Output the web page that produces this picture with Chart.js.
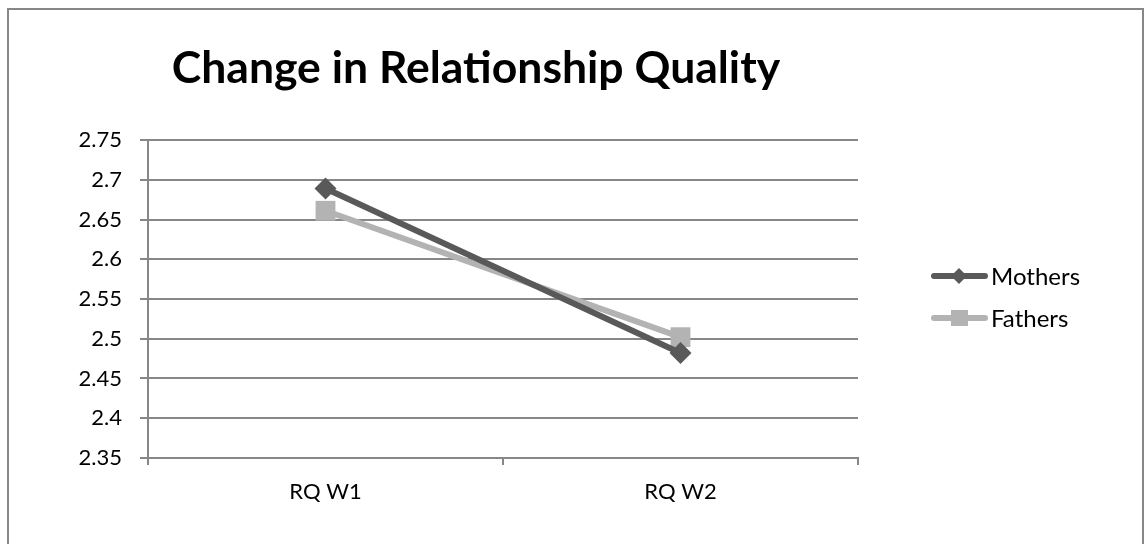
<!DOCTYPE html>
<html>
<head>
<meta charset="utf-8">
<script src="https://cdn.jsdelivr.net/npm/chart.js@4"></script>
<style>
html,body{margin:0;padding:0;background:#fff;}
#wrap{width:1146px;height:544px;position:relative;}
</style>
</head>
<body>
<div id="wrap"><canvas id="c" width="1146" height="544"></canvas></div>
<script>
const categories = ["RQ W1", "RQ W2"];
const mothers = [2.689, 2.482];
const fathers = [2.661, 2.502];
const yTicks = [2.35, 2.4, 2.45, 2.5, 2.55, 2.6, 2.65, 2.7, 2.75];
const titleText = "Change in Relationship Quality";
const seriesNames = ["Mothers", "Fathers"];

const FONT = "Lato, 'Open Sans', sans-serif";

const decor = {
  id: 'decor',
  beforeDraw(chart) {
    const ctx = chart.ctx;
    ctx.save();
    ctx.fillStyle = '#fff';
    ctx.fillRect(0, 0, chart.width, chart.height);
    ctx.strokeStyle = '#878787';
    ctx.lineWidth = 2;
    ctx.strokeRect(8, 9, 1135, 560);
    ctx.restore();
  },
  afterDraw(chart) {
    const ctx = chart.ctx;
    ctx.save();
    // title
    ctx.fillStyle = '#000';
    ctx.font = "bold 44.5px " + FONT;
    ctx.textBaseline = 'alphabetic';
    ctx.textAlign = 'center';
    ctx.fillText(titleText, 476, 83);
    // legend
    const ds = chart.data.datasets;
    const rows = [276, 318];
    ds.forEach((d, i) => {
      const y = rows[i];
      ctx.strokeStyle = d.borderColor;
      ctx.lineWidth = 6;
      ctx.lineCap = 'round';
      ctx.beginPath();
      ctx.moveTo(934, y);
      ctx.lineTo(985, y);
      ctx.stroke();
      ctx.fillStyle = d.pointBackgroundColor;
      if (d.pointStyle === 'rectRot') {
        ctx.beginPath();
        ctx.moveTo(959, y - 8); ctx.lineTo(967, y); ctx.lineTo(959, y + 8); ctx.lineTo(951, y);
        ctx.closePath(); ctx.fill();
      } else {
        ctx.fillRect(951, y - 8, 17, 16);
      }
      ctx.fillStyle = '#000';
      ctx.font = "24px " + FONT;
      ctx.textAlign = 'left';
      ctx.textBaseline = 'middle';
      ctx.fillText(d.label, 991, y + 1);
    });
    ctx.restore();
  }
};

new Chart(document.getElementById('c'), {
  type: 'line',
  data: {
    labels: categories,
    datasets: [
      {
        label: seriesNames[0], data: mothers,
        borderColor: '#595959', backgroundColor: '#595959',
        pointBackgroundColor: '#595959', pointBorderColor: '#595959',
        borderWidth: 6, pointStyle: 'rectRot', pointRadius: 11, pointHoverRadius: 11,
        pointBorderWidth: 0, tension: 0
      },
      {
        label: seriesNames[1], data: fathers,
        borderColor: '#b3b3b3', backgroundColor: '#b3b3b3',
        pointBackgroundColor: '#b3b3b3', pointBorderColor: '#b3b3b3',
        borderWidth: 6, pointStyle: 'rect', pointRadius: 14, pointHoverRadius: 14,
        pointBorderWidth: 0, tension: 0
      }
    ]
  },
  options: {
    responsive: false,
    animation: false,
    devicePixelRatio: 1,
    layout: { padding: { left: 0, right: 288, top: 140, bottom: 0 } },
    plugins: { legend: { display: false }, title: { display: false }, tooltip: { enabled: false } },
    scales: {
      x: {
        type: 'category',
        offset: true,
        grid: { display: true, drawOnChartArea: false, drawTicks: true, tickLength: 7, offset: true, color: '#878787', lineWidth: 2 },
        border: { display: true, color: '#878787', width: 2 },
        ticks: { color: '#000', font: { family: FONT, size: 22 }, padding: 14 },
        afterFit(s) { s.height = 86; }
      },
      y: {
        min: 2.35, max: 2.75,
        afterBuildTicks(s) { s.ticks = yTicks.map(v => ({ value: v })); },
        grid: { color: '#878787', lineWidth: 2, drawTicks: true, tickLength: 8 },
        border: { display: true, color: '#878787', width: 2 },
        ticks: {
          color: '#000', font: { family: FONT, size: 22 }, padding: 18,
          callback: v => String(+v.toFixed(2))
        },
        afterFit(s) { s.width = 148; }
      }
    }
  },
  plugins: [decor]
});
</script>
</body>
</html>
